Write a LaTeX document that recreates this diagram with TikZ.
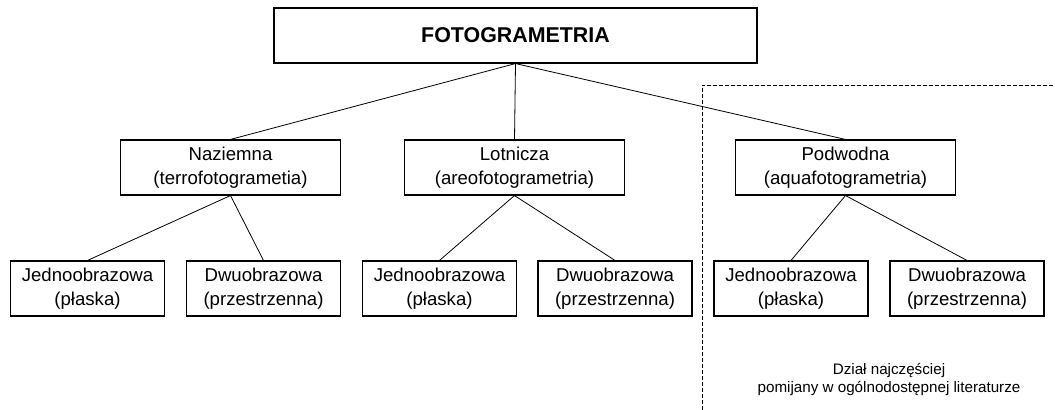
\documentclass[tikz,border=0pt]{standalone}
\usepackage{fontspec}
\setmainfont{Liberation Sans}
\usepackage{tikz}
\usetikzlibrary{positioning}

\tikzset{
  mainbox/.style={draw, line width=0.55pt, rectangle, minimum width=241.5pt, minimum height=27.5pt, inner sep=0pt, font=\fontsize{10.7}{13}\selectfont\bfseries},
  kindbox/.style={draw, line width=0.55pt, rectangle, minimum width=110pt, minimum height=27.5pt, inner sep=0pt, align=center, font=\fontsize{9.3}{11.8}\selectfont},
  leafbox/.style={kindbox, minimum width=77pt},
  link/.style={line width=0.4pt},
  note/.style={align=center, font=\fontsize{7.6}{9}\selectfont}
}

\begin{document}
\begin{tikzpicture}[x=0.5pt,y=-0.5pt]
\useasboundingbox (0,0) rectangle (1055,410);

% Define nodes
\node[mainbox] (foto) at (515.5,35.5) {FOTOGRAMETRIA};
\node[kindbox] (naz) at (230.5,167.5) {Naziemna\\(terrofotogrametia)};
\node[kindbox] (lot) at (514.5,167.5) {Lotnicza\\(areofotogrametria)};
\node[kindbox] (pod) at (845.5,167.5) {Podwodna\\(aquafotogrametria)};
\node[leafbox] (naz1) at (87.5,288.5) {Jednoobrazowa\\(płaska)};
\node[leafbox] (naz2) at (263.5,288.5) {Dwuobrazowa\\(przestrzenna)};
\node[leafbox] (lot1) at (439.5,288.5) {Jednoobrazowa\\(płaska)};
\node[leafbox] (lot2) at (615,288.5) {Dwuobrazowa\\(przestrzenna)};
\node[leafbox] (pod1) at (791,288.5) {Jednoobrazowa\\(płaska)};
\node[leafbox] (pod2) at (967,288.5) {Dwuobrazowa\\(przestrzenna)};
\node[note] (uwaga) at (889,379) {Dział najczęściej\\pomijany w ogólnodostępnej literaturze};

% Connect the nodes
\draw[link] (foto.south) -- (naz.north);
\draw[link] (foto.south) -- (lot.north);
\draw[link] (foto.south) -- (pod.north);
\draw[link] (naz.south) -- (naz1.north);
\draw[link] (naz.south) -- (naz2.north);
\draw[link] (lot.south) -- (lot1.north);
\draw[link] (lot.south) -- (lot2.north);
\draw[link] (pod.south) -- (pod1.north);
\draw[link] (pod.south) -- (pod2.north);

% Frame
\coordinate (fl) at (702,410);
\coordinate (fc) at (702,85);
\coordinate (fr) at (1055,85);
\draw[line width=0.45pt, dash pattern=on 2pt off 1pt] (fl) -- (fc) -- (fr);
\end{tikzpicture}
\end{document}
